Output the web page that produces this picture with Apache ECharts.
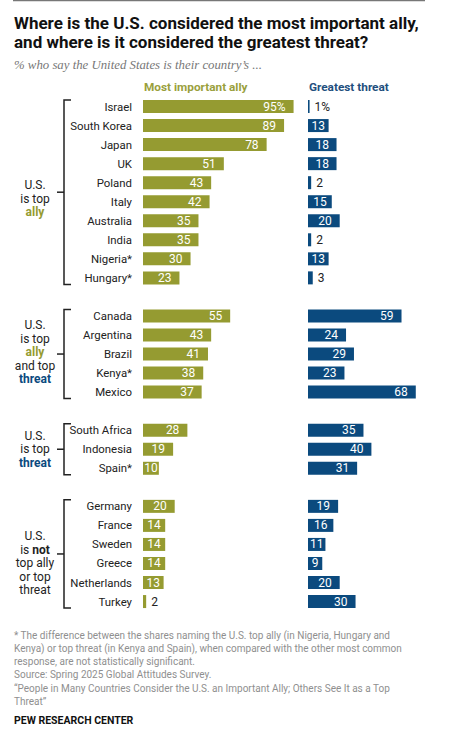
<!DOCTYPE html>
<html>
<head>
<meta charset="utf-8">
<script src="https://cdn.jsdelivr.net/npm/echarts@6/dist/echarts.min.js"></script>
<style>
html,body{margin:0;padding:0;background:#fff;}
#main{width:474px;height:741px;}
</style>
</head>
<body>
<div id="main"></div>
<script>
// ---- data ----
const groupAllyCountries = ['Israel','South Korea','Japan','UK','Poland','Italy','Australia','India','Nigeria*','Hungary*'];
const groupAllyAlly      = [95,89,78,51,43,42,35,35,30,23];
const groupAllyThreat    = [1,13,18,18,2,15,20,2,13,3];

const groupBothCountries = ['Canada','Argentina','Brazil','Kenya*','Mexico'];
const groupBothAlly      = [55,43,41,38,37];
const groupBothThreat    = [59,24,29,23,68];

const groupThreatCountries = ['South Africa','Indonesia','Spain*'];
const groupThreatAlly      = [28,19,10];
const groupThreatThreat    = [35,40,31];

const groupNeitherCountries = ['Germany','France','Sweden','Greece','Netherlands','Turkey'];
const groupNeitherAlly      = [20,14,14,14,13,2];
const groupNeitherThreat    = [19,16,11,9,20,30];

const titleLines = ['Where is the U.S. considered the most important ally,','and where is it considered the greatest threat?'];
const subtitle = '% who say the United States is their country\u2019s ...';
const headerAlly = 'Most important ally';
const headerThreat = 'Greatest threat';
const groupLabels = [
  ['U.S.','is top','{a|ally}'],
  ['U.S.','is top','{a|ally}','and top','{t|threat}'],
  ['U.S.','is top','{t|threat}'],
  ['U.S.','is {b|not}','top ally','or top','threat']
];
const footLines = [
  '* The difference between the shares naming the U.S. top ally (in Nigeria, Hungary and',
  'Kenya) or top threat (in Kenya and Spain), when compared with the other most common',
  'response, are not statistically significant.',
  'Source: Spring 2025 Global Attitudes Survey.',
  '\u201cPeople in Many Countries Consider the U.S. an Important Ally; Others See It as a Top',
  'Threat\u201d'
];
const creditText = 'PEW RESEARCH CENTER';

// ---- build combined rows (blank spacer row between groups) ----
const groups = [
  [groupAllyCountries, groupAllyAlly, groupAllyThreat],
  [groupBothCountries, groupBothAlly, groupBothThreat],
  [groupThreatCountries, groupThreatAlly, groupThreatThreat],
  [groupNeitherCountries, groupNeitherAlly, groupNeitherThreat]
];
const cats = [], allyVals = [], threatVals = [], groupRanges = [];
groups.forEach((g, gi) => {
  if (gi > 0) { cats.push(' '.repeat(gi)); allyVals.push('-'); threatVals.push('-'); }
  const start = cats.length;
  g[0].forEach((c, i) => { cats.push(c); allyVals.push(g[1][i]); threatVals.push(g[2][i]); });
  groupRanges.push([start, cats.length - 1]);
});

const OLIVE = '#959b31';
const BLUE = '#0b4a7e';
const FONT = 'Roboto, "Liberation Sans", sans-serif';

function itemLabel(v) {
  if (v === '-') return {show:false};
  if (v <= 5) return {position:'right', distance:5, color:'#222'};
  if (v < 19) return {position:'inside', color:'#fff'};
  return {position:'insideRight', distance:8, color:'#fff'};
}
function toItems(arr) { return arr.map(v => ({value: v, label: itemLabel(v)})); }
const fmt = p => p.value + (p.dataIndex === 0 ? '%' : '');

const gridTop = 97, rowH = 19.04, gridH = rowH * cats.length, gridW = 158.5;

const chart = echarts.init(document.getElementById('main'), null, {renderer:'svg'});
const baseLabel = {show:true, fontFamily:FONT, fontSize:12, formatter:fmt};

chart.setOption({
  animation:false,
  textStyle:{fontFamily:FONT},
  grid:[
    {left:143, top:gridTop, width:gridW, height:gridH},
    {left:308, top:gridTop, width:gridW, height:gridH}
  ],
  xAxis:[
    {gridIndex:0, type:'value', min:0, max:100, show:false},
    {gridIndex:1, type:'value', min:0, max:100, show:false}
  ],
  yAxis:[
    {gridIndex:0, type:'category', data:cats, inverse:true,
     axisLine:{show:false}, axisTick:{show:false},
     axisLabel:{margin:11, color:'#222', fontSize:11.4, fontFamily:FONT}},
    {gridIndex:1, type:'category', data:cats, inverse:true, show:false}
  ],
  series:[
    {type:'bar', xAxisIndex:0, yAxisIndex:0, data:toItems(allyVals), barWidth:13,
     itemStyle:{color:OLIVE}, label:baseLabel},
    {type:'bar', xAxisIndex:1, yAxisIndex:1, data:toItems(threatVals), barWidth:13,
     itemStyle:{color:BLUE}, label:baseLabel}
  ]
});

// ---- annotations (title, headers, brackets, group labels, footer) ----
const g = [];
g.push({type:'line', shape:{x1:13,y1:0.5,x2:425,y2:0.5}, style:{stroke:'#777', lineWidth:1.5}});
titleLines.forEach((t, i) => g.push({type:'text', x:14, y:22.7 + i*19.6,
  style:{text:t, font:'bold 17px ' + FONT, fill:'#111', textVerticalAlign:'middle'}}));
g.push({type:'text', x:14, y:65.3, style:{text:subtitle, font:'italic 12.8px "Liberation Serif", serif', fill:'#777', textVerticalAlign:'middle'}});
g.push({type:'text', x:144, y:86.5, style:{text:headerAlly, font:'bold 11.8px ' + FONT, fill:'#9a9f3c', textVerticalAlign:'middle'}});
g.push({type:'text', x:309, y:87, style:{text:headerThreat, font:'bold 11.8px ' + FONT, fill:'#1f4f7e', textVerticalAlign:'middle'}});

const rowY = i => chart.convertToPixel({yAxisIndex:0}, i);
const groupTextCenters = [198.6, 352, 449.3, 563];
groupRanges.forEach((r, gi) => {
  const yTop = rowY(r[0]) - 6.5, yBot = rowY(r[1]) + 6.5, yMid = (yTop + yBot) / 2;
  g.push({type:'polyline', shape:{points:[[71,yTop],[64,yTop],[64,yBot],[71,yBot]]}, style:{stroke:'#222', lineWidth:1.5, fill:null}});
  g.push({type:'line', shape:{x1:57,y1:yMid,x2:64,y2:yMid}, style:{stroke:'#222', lineWidth:1.5}});
  const lines = groupLabels[gi];
  const c = groupTextCenters[gi];
  const mid = (lines.length - 1) / 2;
  lines.forEach((t, li) => g.push({type:'text', x:35, y:c + (li - mid) * 13.5,
    style:{text:t, font:'12px ' + FONT, fill:'#222', textAlign:'center', textVerticalAlign:'middle',
      rich:{a:{fontWeight:'bold', fill:OLIVE, fontSize:12, fontFamily:FONT},
            t:{fontWeight:'bold', fill:BLUE, fontSize:12, fontFamily:FONT},
            b:{fontWeight:'bold', fill:'#222', fontSize:12, fontFamily:FONT}}}}));
});

footLines.forEach((t, i) => g.push({type:'text', x:14, y:635 + i*13.3,
  style:{text:t, font:'10px ' + FONT, fill:'#8f8f8f', textVerticalAlign:'middle'}}));
g.push({type:'text', x:14, y:720, style:{text:creditText, font:'bold 10.5px ' + FONT, fill:'#111', textVerticalAlign:'middle'}});

chart.setOption({graphic:g});
</script>
</body>
</html>
